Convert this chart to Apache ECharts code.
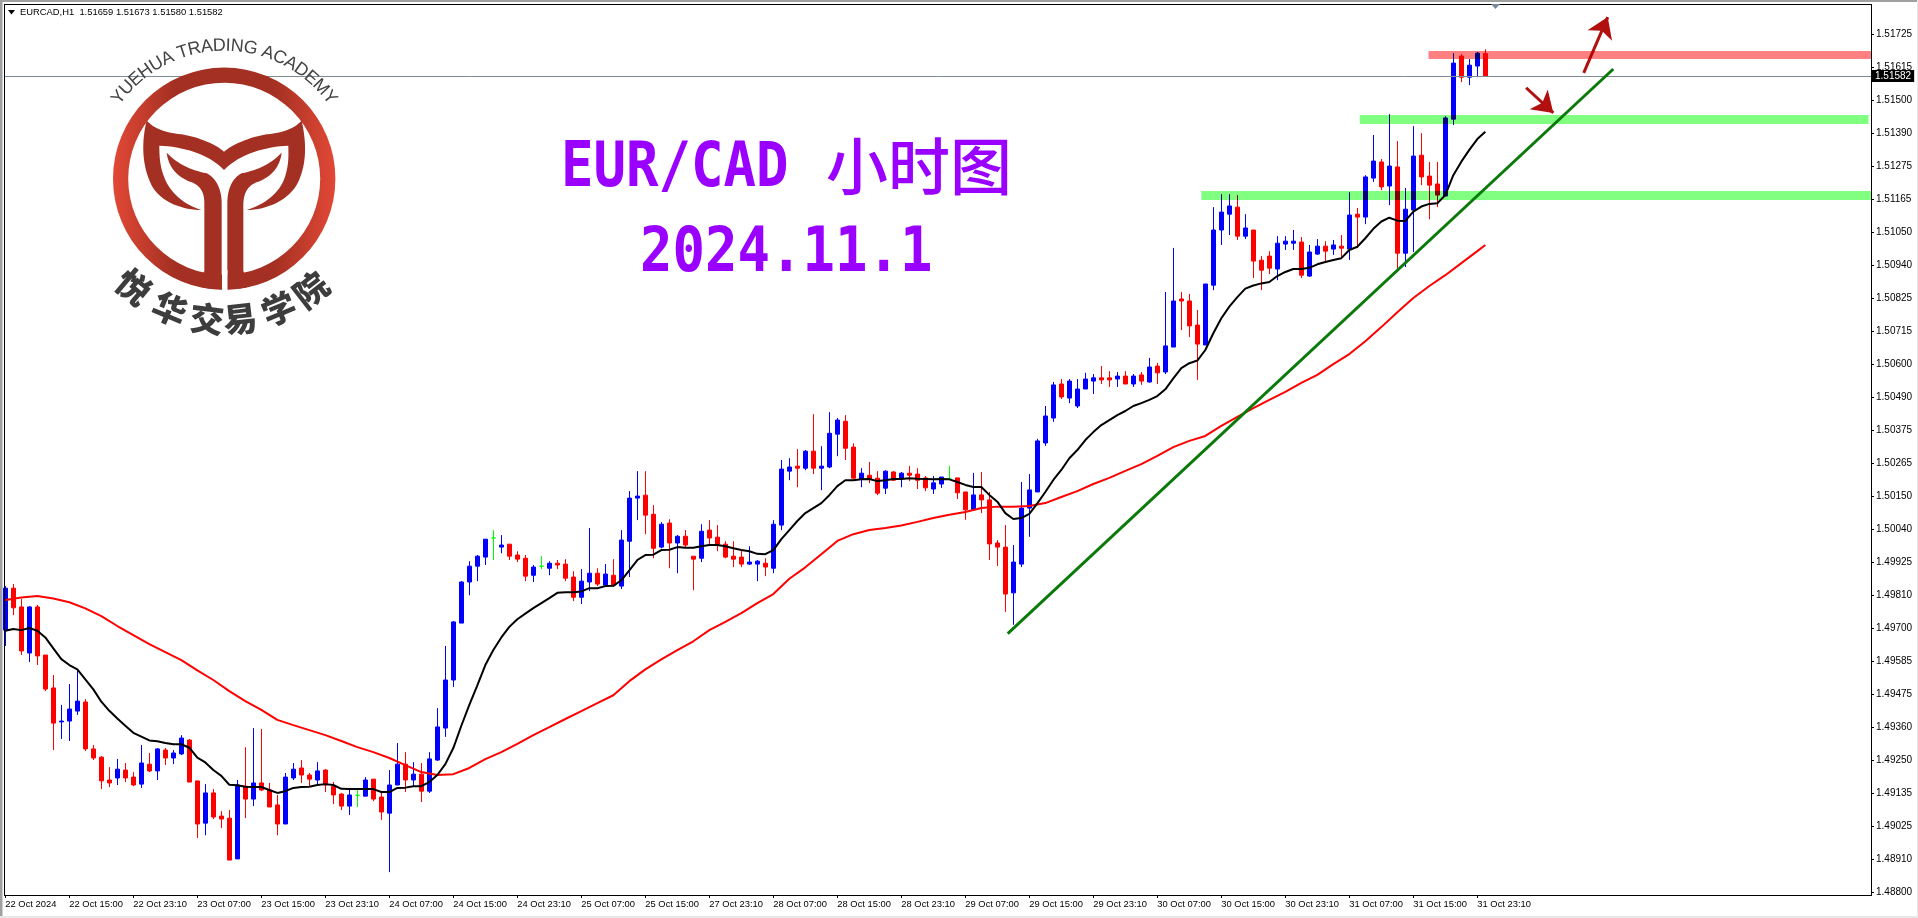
<!DOCTYPE html>
<html><head><meta charset="utf-8">
<style>html,body{margin:0;padding:0;background:#fff;overflow:hidden}#c{width:1918px;height:918px}</style>
<script src="https://cdn.jsdelivr.net/npm/echarts@6/dist/echarts.min.js"></script>
</head><body><div id="c"></div>
<script>
const opens=[
1.49693,1.49836,1.49772,1.49615,1.49772,1.49608,1.49496,1.49380,1.49383,1.49417,
1.49448,1.49288,1.49260,1.49182,1.49189,1.49216,1.49192,1.49168,1.49236,1.49213,
1.49284,1.49257,1.49271,1.49318,1.49179,1.49035,1.49138,1.49059,1.49052,1.48913,
1.49161,1.49117,1.49172,1.49148,1.49097,1.49032,1.49189,1.49223,1.49199,1.49182,
1.49216,1.49161,1.49134,1.49093,1.49130,1.49127,1.49185,1.49124,1.49069,1.49165,
1.49236,1.49182,1.49202,1.49144,1.49250,1.49359,1.49523,1.49717,1.49857,1.49911,
1.49942,1.50007,1.49976,1.49986,1.49949,1.49938,1.49880,1.49911,1.49904,1.49921,
1.49918,1.49874,1.49805,1.49857,1.49887,1.49846,1.49880,1.49843,1.49996,1.50143,
1.50153,1.50088,1.49976,1.50058,1.49990,1.50013,1.49945,1.49938,1.50034,1.50010,
1.49986,1.49945,1.49942,1.49918,1.49918,1.49921,1.49904,1.50051,1.50235,1.50252,
1.50245,1.50303,1.50245,1.50249,1.50361,1.50405,1.50317,1.50208,1.50221,1.50211,
1.50177,1.50232,1.50211,1.50228,1.50225,1.50212,1.50174,1.50191,1.50208,1.50212,
1.50164,1.50103,1.50154,1.50137,1.49990,1.49976,1.49820,1.49918,1.50109,1.50164,
1.50331,1.50416,1.50532,1.50484,1.50457,1.50515,1.50542,1.50553,1.50553,1.50549,
1.50559,1.50532,1.50563,1.50539,1.50593,1.50573,1.50658,1.50822,1.50815,1.50733,
1.50665,1.50869,1.51057,1.51111,1.51135,1.51036,1.51057,1.50954,1.50968,1.50924,
1.51009,1.51012,1.51016,1.50900,1.50975,1.51002,1.50992,1.51002,1.50992,1.51111,
1.51101,1.51234,1.51289,1.51207,1.51272,1.50978,1.51125,1.51312,1.51241,1.51214,
1.51173,1.51435,1.51650,1.51578,1.51616,1.51659];
const closes=[
1.49836,1.49769,1.49622,1.49772,1.49605,1.49492,1.49376,1.49383,1.49424,1.49451,
1.49288,1.49257,1.49179,1.49172,1.49219,1.49189,1.49165,1.49240,1.49213,1.49288,
1.49257,1.49274,1.49325,1.49175,1.49032,1.49138,1.49056,1.49049,1.48909,1.49165,
1.49117,1.49172,1.49148,1.49090,1.49032,1.49192,1.49219,1.49199,1.49185,1.49213,
1.49165,1.49131,1.49093,1.49131,1.49130,1.49182,1.49117,1.49073,1.49165,1.49236,
1.49182,1.49202,1.49144,1.49254,1.49363,1.49523,1.49721,1.49857,1.49911,1.49945,
1.50003,1.50007,1.49983,1.49945,1.49935,1.49877,1.49908,1.49911,1.49921,1.49915,
1.49870,1.49805,1.49860,1.49887,1.49850,1.49884,1.49846,1.50000,1.50143,1.50150,
1.50085,1.49972,1.50054,1.49990,1.50013,1.49983,1.49935,1.50030,1.50007,1.49986,
1.49942,1.49935,1.49918,1.49925,1.49928,1.49908,1.50054,1.50242,1.50249,1.50245,
1.50303,1.50245,1.50252,1.50364,1.50409,1.50313,1.50211,1.50228,1.50208,1.50160,
1.50235,1.50204,1.50228,1.50221,1.50204,1.50178,1.50195,1.50215,1.50208,1.50161,
1.50103,1.50154,1.50137,1.49987,1.49976,1.49816,1.49925,1.50109,1.50171,1.50338,
1.50423,1.50529,1.50488,1.50542,1.50515,1.50549,1.50553,1.50546,1.50546,1.50559,
1.50532,1.50559,1.50542,1.50590,1.50570,1.50662,1.50815,1.50815,1.50730,1.50668,
1.50873,1.51057,1.51118,1.51139,1.51036,1.51064,1.50951,1.50920,1.50927,1.51012,
1.51019,1.51019,1.50903,1.50982,1.51002,1.50985,1.51006,1.50995,1.51108,1.51101,
1.51238,1.51292,1.51204,1.51275,1.50978,1.51128,1.51309,1.51238,1.51210,1.51176,
1.51439,1.51626,1.51578,1.51619,1.51660,1.51582];
const lows=[
1.49639,1.49744,1.49608,1.49584,1.49574,1.49485,1.49284,1.49322,1.49315,1.49404,
1.49281,1.49250,1.49151,1.49158,1.49165,1.49175,1.49161,1.49155,1.49209,1.49182,
1.49233,1.49236,1.49267,1.49175,1.48984,1.48994,1.49049,1.49018,1.48909,1.48913,
1.49052,1.49093,1.49144,1.49090,1.48994,1.49032,1.49182,1.49172,1.49161,1.49168,
1.49141,1.49100,1.49080,1.49063,1.49090,1.49127,1.49110,1.49046,1.48868,1.49165,
1.49141,1.49161,1.49107,1.49138,1.49247,1.49329,1.49499,1.49717,1.49812,1.49860,
1.49915,1.49932,1.49955,1.49932,1.49925,1.49860,1.49857,1.49901,1.49880,1.49901,
1.49860,1.49792,1.49782,1.49826,1.49843,1.49843,1.49840,1.49833,1.49874,1.50068,
1.50020,1.49938,1.49972,1.49904,1.49887,1.49976,1.49829,1.49925,1.49983,1.49962,
1.49938,1.49908,1.49908,1.49915,1.49860,1.49877,1.49887,1.50034,1.50204,1.50180,
1.50238,1.50225,1.50170,1.50245,1.50286,1.50273,1.50208,1.50180,1.50194,1.50153,
1.50157,1.50201,1.50180,1.50201,1.50174,1.50167,1.50157,1.50178,1.50205,1.50140,
1.50069,1.50103,1.50092,1.49932,1.49912,1.49755,1.49711,1.49908,1.50011,1.50164,
1.50321,1.50403,1.50481,1.50467,1.50450,1.50515,1.50498,1.50532,1.50522,1.50522,
1.50532,1.50522,1.50529,1.50536,1.50532,1.50566,1.50658,1.50716,1.50692,1.50546,
1.50665,1.50852,1.51006,1.51040,1.51023,1.51026,1.50893,1.50852,1.50907,1.50886,
1.50989,1.50989,1.50893,1.50897,1.50972,1.50948,1.50972,1.50958,1.50955,1.50995,
1.51077,1.51221,1.51193,1.51142,1.50924,1.50931,1.50982,1.51210,1.51094,1.51135,
1.51173,1.51415,1.51561,1.51551,1.51578,1.51580];
const highs=[
1.49843,1.49850,1.49799,1.49775,1.49779,1.49608,1.49540,1.49438,1.49509,1.49557,
1.49458,1.49301,1.49264,1.49226,1.49254,1.49240,1.49209,1.49301,1.49274,1.49291,
1.49291,1.49284,1.49335,1.49322,1.49179,1.49168,1.49151,1.49076,1.49080,1.49182,
1.49294,1.49359,1.49356,1.49172,1.49131,1.49206,1.49240,1.49250,1.49206,1.49243,
1.49219,1.49175,1.49138,1.49148,1.49151,1.49192,1.49185,1.49144,1.49216,1.49308,
1.49277,1.49243,1.49240,1.49277,1.49427,1.49639,1.49724,1.49860,1.49928,1.49949,
1.50003,1.50034,1.50017,1.49986,1.49962,1.49949,1.49915,1.49945,1.49928,1.49932,
1.49935,1.49894,1.49901,1.50041,1.49904,1.49918,1.49935,1.50034,1.50167,1.50235,
1.50235,1.50119,1.50061,1.50071,1.50017,1.50034,1.49945,1.50054,1.50068,1.50051,
1.49996,1.49996,1.49966,1.49979,1.49932,1.49938,1.50068,1.50273,1.50279,1.50310,
1.50307,1.50429,1.50320,1.50436,1.50416,1.50426,1.50330,1.50245,1.50266,1.50235,
1.50238,1.50235,1.50232,1.50252,1.50245,1.50218,1.50218,1.50215,1.50253,1.50212,
1.50164,1.50229,1.50232,1.50164,1.50000,1.50051,1.49983,1.50198,1.50225,1.50345,
1.50457,1.50539,1.50549,1.50549,1.50549,1.50570,1.50566,1.50593,1.50576,1.50573,
1.50576,1.50566,1.50573,1.50621,1.50604,1.50846,1.50996,1.50846,1.50839,1.50784,
1.50873,1.51135,1.51179,1.51179,1.51176,1.51111,1.51057,1.50968,1.50985,1.51036,
1.51036,1.51057,1.51033,1.51006,1.51026,1.51019,1.51023,1.51040,1.51186,1.51132,
1.51244,1.51381,1.51299,1.51452,1.51360,1.51200,1.51411,1.51387,1.51289,1.51289,
1.51445,1.51660,1.51657,1.51640,1.51664,1.51673];

// fast moving average, one reading per bar
const maFast=[
1.49691,1.49697,1.49693,1.49700,1.49691,1.49668,1.49631,1.49594,1.49574,1.49559,
1.49525,1.49491,1.49449,1.49418,1.49392,1.49367,1.49343,1.49330,1.49317,1.49314,
1.49308,1.49304,1.49304,1.49292,1.49258,1.49242,1.49216,1.49196,1.49166,1.49164,
1.49159,1.49158,1.49158,1.49148,1.49138,1.49144,1.49155,1.49158,1.49159,1.49165,
1.49168,1.49165,1.49152,1.49151,1.49151,1.49151,1.49151,1.49141,1.49141,1.49155,
1.49156,1.49161,1.49161,1.49175,1.49199,1.49236,1.49291,1.49367,1.49438,1.49505,
1.49574,1.49625,1.49668,1.49704,1.49730,1.49749,1.49768,1.49785,1.49802,1.49820,
1.49822,1.49822,1.49825,1.49836,1.49836,1.49843,1.49844,1.49863,1.49897,1.49932,
1.49949,1.49950,1.49966,1.49967,1.49976,1.49974,1.49974,1.49979,1.49983,1.49983,
1.49979,1.49972,1.49966,1.49962,1.49953,1.49952,1.49966,1.50003,1.50034,1.50065,
1.50092,1.50109,1.50126,1.50153,1.50184,1.50204,1.50204,1.50207,1.50208,1.50201,
1.50204,1.50208,1.50208,1.50211,1.50209,1.50208,1.50207,1.50208,1.50207,1.50198,
1.50188,1.50181,1.50181,1.50154,1.50131,1.50092,1.50072,1.50075,1.50089,1.50125,
1.50164,1.50205,1.50239,1.50279,1.50307,1.50341,1.50368,1.50392,1.50409,1.50426,
1.50440,1.50457,1.50467,1.50478,1.50491,1.50514,1.50551,1.50586,1.50603,1.50612,
1.50648,1.50705,1.50756,1.50796,1.50828,1.50857,1.50868,1.50875,1.50880,1.50900,
1.50914,1.50924,1.50924,1.50928,1.50940,1.50948,1.50955,1.50961,1.50989,1.51000,
1.51029,1.51061,1.51086,1.51099,1.51089,1.51088,1.51120,1.51137,1.51146,1.51148,
1.51176,1.51244,1.51290,1.51330,1.51367,1.51392];

// slow moving average, one reading per bar listed in maSlowBars
const maSlowBars=[0,2,4,6,8,10,12,14,16,18,20,22,24,26,28,30,32,34,36,38,40,42,44,46,48,50,52,54,56,58,60,62,64,66,68,70,72,74,76,78,80,82,84,86,88,90,92,94,96,98,100,102,104,106,108,110,112,114,116,118,120,122,124,126,128,130,132,134,136,138,140,142,144,146,148,150,152,154,156,158,160,162,164,166,168,170,172,174,176,178,180,182,184,185];
const maSlow=[
1.49796,1.49804,1.49809,1.49801,1.49788,1.49767,1.49741,1.49707,1.49676,1.49645,
1.49618,1.49591,1.49556,1.49523,1.49485,1.49451,1.49421,1.49387,1.49369,1.49352,
1.49335,1.49315,1.49294,1.49277,1.49257,1.49233,1.49209,1.49199,1.49202,1.49223,
1.49253,1.49277,1.49305,1.49335,1.49362,1.49390,1.49417,1.49444,1.49471,1.49519,
1.49559,1.49593,1.49625,1.49655,1.49693,1.49721,1.49751,1.49785,1.49816,1.49868,
1.49907,1.49952,1.49997,1.50020,1.50034,1.50041,1.50050,1.50062,1.50075,1.50086,
1.50096,1.50109,1.50114,1.50114,1.50116,1.50126,1.50147,1.50167,1.50191,1.50212,
1.50236,1.50259,1.50287,1.50317,1.50338,1.50355,1.50389,1.50420,1.50450,1.50478,
1.50505,1.50536,1.50563,1.50600,1.50634,1.50678,1.50726,1.50777,1.50825,1.50866,
1.50903,1.50944,1.50985,1.51006];

const xTickBars=[0,8,16,24,32,40,48,56,64,72,80,88,96,104,112,120,128,136,144,152,160,168,176,184];
const xTickLabels=['22 Oct 2024','22 Oct 15:00','22 Oct 23:10','23 Oct 07:00','23 Oct 15:00','23 Oct 23:10','24 Oct 07:00','24 Oct 15:00','24 Oct 23:10','25 Oct 07:00','25 Oct 15:00','27 Oct 23:10','28 Oct 07:00','28 Oct 15:00','28 Oct 23:10','29 Oct 07:00','29 Oct 15:00','29 Oct 23:10','30 Oct 07:00','30 Oct 15:00','30 Oct 23:10','31 Oct 07:00','31 Oct 15:00','31 Oct 23:10'];
const yTickValues=[1.488,1.489125,1.49025,1.491375,1.4925,1.493625,1.49475,1.495875,1.497,1.498125,1.49925,1.500375,1.5015,1.502625,1.50375,1.504875,1.506,1.507125,1.50825,1.509375,1.5105,1.511625,1.51275,1.513875,1.515,1.516125,1.51725];
const yTickLabels=['1.48800','1.48910','1.49025','1.49135','1.49250','1.49360','1.49475','1.49585','1.49700','1.49810','1.49925','1.50040','1.50150','1.50265','1.50375','1.50490','1.50600','1.50715','1.50825','1.50940','1.51050','1.51165','1.51275','1.51390','1.51500','1.51615','1.51725'];

const lastPrice=1.51582;
const zoneFrom=[149.5,169.3,177.9];
const zoneTo=[233.2,232.9,233.2];
const zoneHigh=[1.51190,1.51449,1.51667];
const zoneLow=[1.51159,1.51418,1.51640];
const zoneColors=['#80ff80','#80ff80','#ff8080'];
const trendBars=[125.3,201.0];
const trendPrices=[1.49681,1.51606];
const arrowUpBars=[197.3,200.3];
const arrowUpPrices=[1.51593,1.51783];
const arrowDownBars=[190.1,193.5];
const arrowDownPrices=[1.51542,1.51456];

const headerText='EURCAD,H1  1.51659 1.51673 1.51580 1.51582';
const titleLeft='EUR/CAD';
const titleCjk='小时图';
const titleDate='2024.11.1';
const logoEn='YUEHUA TRADING ACADEMY';
const logoCn='悦华交易学院';

const uiFont='"Liberation Sans",Arial,sans-serif';
const purple='#9900ff';
const Z=50;
const ringFill={type:'linear',x:0,y:0,x2:1,y2:0,colorStops:[{offset:0,color:'#e24836'},{offset:.28,color:'#a33022'},{offset:.72,color:'#a33022'},{offset:1,color:'#e24836'}]};
const wing='#a33022';

function flatten(d){
  const nums=d.match(/[MCLZ]|-?[\d.]+/g),pts=[];
  let i=0,cmd='',cur=[0,0];
  while(i<nums.length){
    if(/[MCLZ]/.test(nums[i])){cmd=nums[i++];if(cmd==='Z')break;}
    if(cmd==='M'||cmd==='L'){cur=[+nums[i],+nums[i+1]];pts.push(cur);i+=2;}
    else{
      const p=[0,1,2,3,4,5].map(k=>+nums[i+k]);i+=6;
      for(let t=1;t<=16;t++){
        const s=t/16,u=1-s;
        pts.push([u*u*u*cur[0]+3*u*u*s*p[0]+3*u*s*s*p[2]+s*s*s*p[4],u*u*u*cur[1]+3*u*u*s*p[1]+3*u*s*s*p[3]+s*s*s*p[5]]);
      }
      cur=[p[4],p[5]];
    }
  }
  return pts.map(q=>[q[0]/3,q[1]/3]);
}
function logoElements(){
  const cx=224.2,cy=178.7,els=[];
  const path=(d,fill)=>({type:'polygon',z:Z,shape:{points:flatten(d)},style:{fill}});
  els.push({type:'ring',z:Z,shape:{cx,cy,r:111.2,r0:96},style:{fill:ringFill}});
  els.push(path('M440,362C470,395 520,400 545,403C600,412 650,435 672,455C695,435 745,412 800,403C825,400 875,395 905,362C920,430 920,490 895,545C870,600 800,630 740,630C790,615 840,580 855,530C868,490 865,460 865,437C800,440 720,460 672,510C625,460 545,440 478,437C478,470 480,500 492,530C510,580 555,615 604,630C540,630 470,600 450,545C425,490 425,420 440,362Z',wing));
  els.push(path('M500,458C530,490 570,510 620,520C650,535 665,570 665,610L665,835C665,852 650,866 628,866L600,860L613,812L613,610C613,575 600,555 570,545C530,530 505,500 500,458Z',wing));
  els.push(path('M845,458C815,490 775,510 725,520C695,535 682,570 682,610L682,835C682,852 697,866 719,866L745,860L730,812L730,610C732,575 745,555 775,545C815,530 840,500 845,458Z',wing));
  els.push({type:'rect',z:Z,shape:{x:222,y:270,width:5.5,height:22},style:{fill:'#fff'}});
  const measure=document.createElement('canvas').getContext('2d');
  const enFont='18px '+uiFont;
  measure.font=enFont;
  const r=133,total=measure.measureText(logoEn).width;
  let run=-total/2;
  for(const ch of logoEn){
    const w=measure.measureText(ch).width;
    const a=(run+w/2)/r; run+=w;
    els.push({type:'text',z:Z,x:cx+r*Math.sin(a),y:cy-r*Math.cos(a),rotation:-a,style:{text:ch,font:enFont,fill:'#444',align:'center',verticalAlign:'middle'}});
  }
  const angs=[40,22.7,7,-6.5,-22.7,-38];
  [...logoCn].forEach((ch,i)=>{
    const a=angs[i]*Math.PI/180,R=141;
    els.push({type:'text',z:Z,x:cx-R*Math.sin(a),y:cy+R*Math.cos(a),rotation:-a,style:{text:ch,font:'900 34px "Noto Sans CJK SC"',fill:'#3d3d3d',align:'center',verticalAlign:'middle'}});
  });
  return els;
}

const monoFont='bold 54px "DejaVu Sans Mono",monospace';
const graphicEls=[
  {type:'rect',z:0,silent:true,shape:{x:0,y:0,width:2.5,height:918},style:{fill:'#a0a0a0'}},
  {type:'rect',z:0,silent:true,shape:{x:0,y:0,width:1918,height:2},style:{fill:'#a0a0a0'}},
  {type:'rect',z:0,silent:true,shape:{x:0,y:916,width:1918,height:2},style:{fill:'#e8e8e8'}},
  {type:'rect',z:0,silent:true,shape:{x:1917,y:0,width:1,height:918},style:{fill:'#e8e8e8'}},
  {type:'rect',z:Z,silent:true,shape:{x:4,y:4,width:1868,height:1},style:{fill:'#000'}},
  {type:'rect',z:Z,silent:true,shape:{x:4,y:895,width:1868,height:1},style:{fill:'#000'}},
  {type:'rect',z:Z,silent:true,shape:{x:4,y:4,width:1,height:892},style:{fill:'#000'}},
  {type:'rect',z:Z,silent:true,shape:{x:1871,y:4,width:1,height:892},style:{fill:'#000'}},
  {type:'polygon',z:Z,shape:{points:[[8,10],[15,10],[11.5,14.5]]},style:{fill:'#000'}},
  {type:'text',z:Z,x:20,y:12,style:{text:headerText,font:'9.4px '+uiFont,fill:'#000',verticalAlign:'middle'}},
  {type:'polygon',z:Z,shape:{points:[[1491,4],[1500,4],[1495.5,9]]},style:{fill:'#778899'}},
  {type:'text',z:Z,x:561,y:170,scaleY:1.14,style:{text:titleLeft,font:monoFont,fill:purple,verticalAlign:'middle'}},
  {type:'text',z:Z,x:826,y:166,style:{text:titleCjk,font:'500 62px "Noto Sans CJK SC"',fill:purple,verticalAlign:'middle'}},
  {type:'text',z:Z,x:640,y:255,scaleY:1.14,style:{text:titleDate,font:monoFont,fill:purple,verticalAlign:'middle'}},
  ...logoElements()
];

const chart=echarts.init(document.getElementById('c'),null,{renderer:'canvas'});
chart.setOption({
  animation:false,
  backgroundColor:'#fff',
  graphic:{elements:graphicEls},
  grid:{left:4,top:4,width:1867,height:891,show:false},
  xAxis:{type:'value',min:-0.166,max:233.21,
    axisLine:{show:false,onZero:false},splitLine:{show:false},
    axisTick:{show:true,length:3,lineStyle:{color:'#000'},customValues:xTickBars},
    axisLabel:{customValues:xTickBars,align:'left',margin:5,fontSize:9.4,fontFamily:uiFont,color:'#000',
      formatter:v=>xTickLabels[xTickBars.indexOf(v)]||''}},
  yAxis:{type:'value',position:'right',min:1.4879,max:1.518275,scale:false,
    axisLine:{show:false,onZero:false},splitLine:{show:false},
    axisTick:{show:true,length:3,lineStyle:{color:'#000'},customValues:yTickValues},
    axisLabel:{customValues:yTickValues,margin:5,fontSize:10,fontFamily:uiFont,color:'#000',
      formatter:v=>yTickLabels[yTickValues.indexOf(v)]||''}},
  series:[
    {type:'candlestick',barWidth:4,clip:true,z:3,progressive:0,
     data:opens.map((o,i)=>[i,o,closes[i],lows[i],highs[i]]),
     itemStyle:{color:'#0000ff',color0:'#ff0000',borderColor:'#0000ff',borderColor0:'#ff0000',borderColorDoji:'#00ff00',borderWidth:1},
     markLine:{silent:true,symbol:'none',animation:false,precision:5,
       data:[{yAxis:lastPrice}],
       lineStyle:{color:'#7f8a93',width:1,type:'solid'},
       label:{show:true,position:'end',distance:1,formatter:lastPrice.toFixed(5),color:'#fff',backgroundColor:'#000',fontSize:10,fontFamily:uiFont,padding:[1,3,1,3]},
       z:6}},
    {type:'line',z:5,symbol:'none',smooth:false,lineStyle:{color:'#000',width:2},
     data:maFast.map((v,i)=>[i,v])},
    {type:'line',z:4,symbol:'none',smooth:false,lineStyle:{color:'#ff0000',width:2},
     data:maSlow.map((v,i)=>[maSlowBars[i],v])},
    {type:'custom',z:7,clip:true,silent:true,
     encode:{x:[0,1],y:[2,3]},
     data:zoneFrom.map((f,i)=>[f,zoneTo[i],zoneHigh[i],zoneLow[i],i]),
     renderItem:(p,api)=>{
       const a=api.coord([api.value(0),api.value(2)]),b=api.coord([api.value(1),api.value(3)]);
       return {type:'rect',shape:{x:a[0],y:a[1],width:b[0]-a[0],height:b[1]-a[1]},
         style:{fill:zoneColors[api.value(4)]}};
     }},
    {type:'line',z:8,symbol:'none',silent:true,lineStyle:{color:'#0b7a0b',width:3},
     data:trendBars.map((x,i)=>[x,trendPrices[i]])},
    {type:'line',z:9,symbol:'none',silent:true,data:[],
     markLine:{silent:true,animation:false,symbolSize:20,
       lineStyle:{color:'#b20f0f',width:3,type:'solid'},label:{show:false},
       data:[
        [{coord:[arrowUpBars[0],arrowUpPrices[0]],symbol:'none'},{coord:[arrowUpBars[1],arrowUpPrices[1]],symbol:'arrow'}],
        [{coord:[arrowDownBars[0],arrowDownPrices[0]],symbol:'none'},{coord:[arrowDownBars[1],arrowDownPrices[1]],symbol:'arrow'}]
       ]}}
  ]
});
// the price zones tint what lies beneath them, as in the terminal
const tintZones=()=>{
  const zr=chart.getZr();
  let changed=false;
  zr.storage.traverse(el=>{
    if(el.style&&zoneColors.includes(el.style.fill)&&el.style.blend!=='multiply'){
      el.style.blend='multiply';el.dirty();changed=true;
    }
  });
  if(changed)zr.refreshImmediately();
};
tintZones();
chart.on('finished',tintZones);
setTimeout(tintZones,150);
</script></body></html>
